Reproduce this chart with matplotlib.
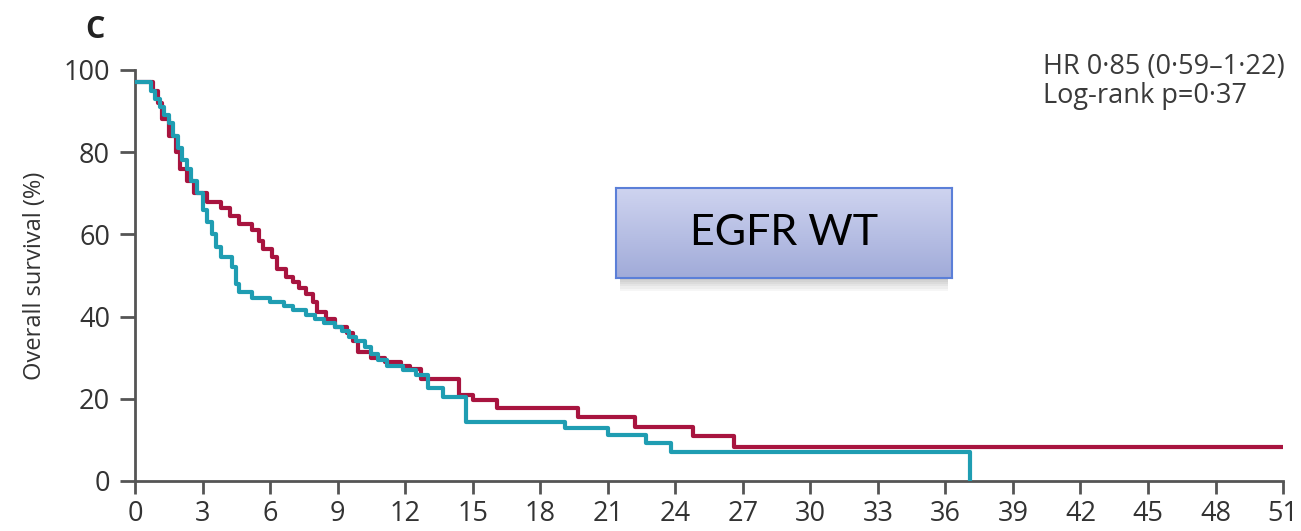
import numpy as np
import matplotlib.pyplot as plt
from matplotlib.patches import Rectangle

plt.rcParams['font.family'] = ['Open Sans', 'DejaVu Sans']

# Kaplan-Meier steps (months, survival %)
teal_t = [0, 0.7, 0.9, 1.1, 1.3, 1.5, 1.7, 1.9, 2.1, 2.3, 2.5, 2.75, 3.0, 3.2, 3.4,
          3.6, 3.8, 4.3, 4.5, 4.6, 5.2, 6.0, 6.6, 7.0, 7.6, 8.0, 8.4, 8.9, 9.2, 9.5,
          9.8, 10.2, 10.5, 10.8, 11.2, 11.9, 12.5, 13.0, 13.7, 14.7, 19.1, 21.0,
          22.7, 23.8, 37.1]
teal_s = [97, 95, 93, 91, 89, 87, 84, 81, 78, 76, 73, 70, 66, 63, 60,
          57, 54.5, 52, 48, 46, 44.5, 43.5, 42.5, 41.5, 40.5, 39.5, 38.5, 37.5, 36.5, 35,
          34, 32.6, 31, 29.5, 28, 27, 25.8, 22.6, 20.4, 14.4, 12.9, 11.2,
          9.2, 7.1, 0]

red_t = [0, 0.8, 1.0, 1.2, 1.5, 1.8, 2.0, 2.3, 2.6, 3.2, 3.8, 4.2, 4.6, 5.2, 5.5,
         5.7, 6.1, 6.3, 6.7, 7.0, 7.3, 7.6, 7.9, 8.1, 8.5, 8.9, 9.4, 9.7, 9.9, 10.5,
         11.1, 11.8, 12.2, 12.7, 14.4, 15.0, 16.1, 19.7, 22.2, 24.8, 26.6, 51]
red_s = [97, 95, 92, 88, 84, 80, 76, 73, 70, 68, 66.5, 64.5, 62.5, 61, 58.5,
         56.5, 54.5, 51.5, 49.6, 48.5, 47, 45.5, 43.5, 41, 39.5, 37.5, 36, 34, 31.5, 30,
         29, 28, 27.3, 24.8, 21, 19.7, 17.8, 15.6, 13.1, 10.9, 8.3, 8.3]

x_ticks = list(range(0, 52, 3))
y_ticks = [0, 20, 40, 60, 80, 100]

fig = plt.figure(figsize=(13.01, 5.31), dpi=100)
ax = fig.add_axes([0.1038, 0.0942, 0.8824, 0.774])

ax.step(red_t, red_s, where='post', color='#a8143f', lw=3.0, zorder=3)
ax.step(teal_t, teal_s, where='post', color='#1f9db2', lw=3.0, zorder=4)

ax.set_xlim(0, 51)
ax.set_ylim(0, 100)
ax.set_xticks(x_ticks)
ax.set_yticks(y_ticks)
for s in ['top', 'right']:
    ax.spines[s].set_visible(False)
for s in ['left', 'bottom']:
    ax.spines[s].set_color('#555555')
    ax.spines[s].set_linewidth(2)
ax.tick_params(axis='both', direction='out', width=2, color='#555555',
               labelsize=19.5, labelcolor='#333333')
ax.tick_params(axis='y', length=11, pad=7)
ax.tick_params(axis='x', length=9, pad=5)
ax.set_ylabel('Overall survival (%)', fontsize=17, color='#333333', labelpad=12)

fig.text(0.073, 0.943, 'C', fontsize=22, fontweight='bold', color='#222222',
         ha='center', va='center')
fig.text(0.8017, 0.9, 'HR 0·85 (0·59–1·22)\nLog-rank p=0·37', fontsize=19.5,
         color='#3a3a3a', ha='left', va='top', linespacing=1.05)

# gradient label box with soft shadow
bx, by, bw, bh = 616 / 1301, 1 - 278 / 531, 336 / 1301, 90 / 531
for i in range(6):
    d = (i + 1) * 0.004
    fig.patches.append(Rectangle((bx + 0.003, by - d), bw - 0.006, bh, transform=fig.transFigure,
                                 facecolor='#000000', alpha=0.035, edgecolor='none', zorder=5))
bax = fig.add_axes([bx, by, bw, bh], zorder=6)
grad = np.linspace(0, 1, 100).reshape(-1, 1)
top = np.array([0.81, 0.83, 0.94])
bot = np.array([0.63, 0.67, 0.85])
img = top + (bot - top) * grad[:, :, None]
bax.imshow(img, aspect='auto', extent=[0, 1, 0, 1], origin='upper')
bax.set_xlim(0, 1)
bax.set_ylim(0, 1)
bax.set_xticks([])
bax.set_yticks([])
for s in bax.spines.values():
    s.set_color('#5b7fd8')
    s.set_linewidth(1.5)
bax.text(0.5, 0.5, 'EGFR WT', fontsize=31, color='#000000', ha='center', va='center',
         family=['Lato', 'DejaVu Sans'], transform=bax.transAxes)

fig.savefig('out.png', dpi=100)
